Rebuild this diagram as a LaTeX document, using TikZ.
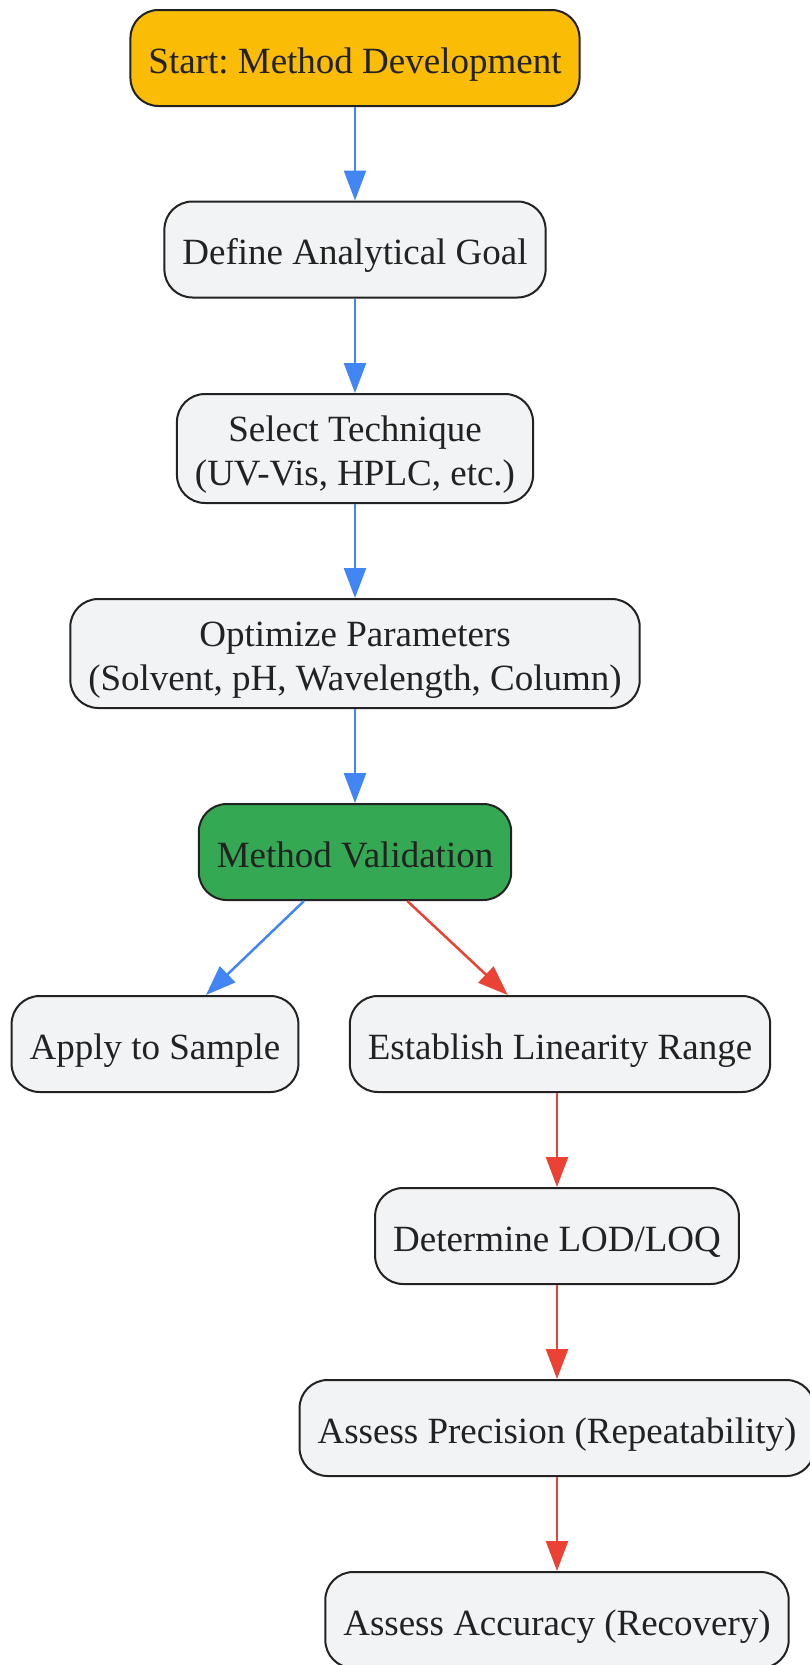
\documentclass[tikz,border=0pt]{standalone}
\usepackage{fontspec}
\setmainfont{Liberation Serif}
\frenchspacing
\usetikzlibrary{arrows.meta}
\definecolor{startyellow}{HTML}{FBBC05}
\definecolor{validgreen}{HTML}{34A853}
\definecolor{stepgrey}{HTML}{F1F3F4}
\definecolor{edgeblue}{HTML}{4285F4}
\definecolor{edgered}{HTML}{EA4335}
\definecolor{inkdark}{HTML}{222222}
\tikzset{
	box/.style={draw=inkdark, line width=2pt, rounded corners=28pt, fill=stepgrey, text=inkdark, align=center, inner xsep=18pt, inner ysep=20pt, minimum height=96pt, text height=30pt, text depth=0pt, font=\fontsize{37}{44}\selectfont},
	twoline/.style={text height=74pt, inner ysep=17.5pt},
	blueflow/.style={draw=edgeblue, line width=2.5pt, -{Triangle[length=30pt,width=22pt,fill=edgeblue]}},
	redflow/.style={draw=edgered, line width=2.5pt, -{Triangle[length=30pt,width=22pt,fill=edgered]}}
}

\begin{document}
\begin{tikzpicture}[x=1pt, y=-1pt]
			%%%%% START %%%%%
			\useasboundingbox (0, 0) rectangle (809, 1665);
			
			\node[box, fill=startyellow] (start) at (355, 58) {Start: Method Development};
			\node[box] (goal) at (355, 249.5) {Define Analytical Goal};
			\node[box, twoline] (technique) at (355, 448.5) {Select Technique\\(UV-Vis, HPLC, etc.)};
			\node[box, twoline] (optimize) at (355, 653.5) {Optimize Parameters\\(Solvent, pH, Wavelength, Column)};
			\node[box, fill=validgreen] (validation) at (355, 852) {Method Validation};
			
			\node[box] (apply) at (155, 1044) {Apply to Sample};
			\node[box] (linearity) at (560, 1044) {Establish Linearity Range};
			\node[box] (lodloq) at (557, 1236) {Determine LOD/LOQ};
			\node[box] (precision) at (557, 1428) {Assess Precision (Repeatability)};
			\node[box] (accuracy) at (557, 1620) {Assess Accuracy (Recovery)};
			
			\draw[blueflow] (start) -- (goal);
			\draw[blueflow] (goal) -- (technique);
			\draw[blueflow] (technique) -- (optimize);
			\draw[blueflow] (optimize) -- (validation);
			\draw[blueflow] (validation) -- (apply);
			
			\draw[redflow] (validation) -- (linearity);
			\draw[redflow] (linearity.south -| lodloq) -- (lodloq);
			\draw[redflow] (lodloq) -- (lodloq |- precision.north);
			\draw[redflow] (lodloq |- precision.south) -- (lodloq |- accuracy.north);
			%%%%% END %%%%%
\end{tikzpicture}
\end{document}
